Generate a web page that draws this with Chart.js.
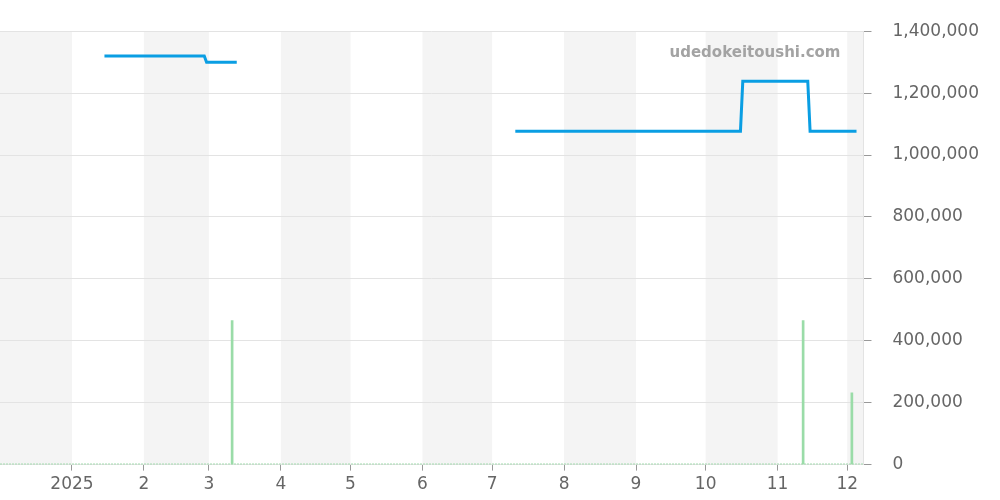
<!DOCTYPE html>
<html>
<head>
<meta charset="utf-8">
<script src="https://cdn.jsdelivr.net/npm/chart.js@4.4.1/dist/chart.umd.min.js"></script>
<style>
  html, body { margin: 0; padding: 0; background: #fff; }
  #wrap { width: 1000px; height: 500px; }
</style>
</head>
<body>
<div id="wrap"><canvas id="chart" width="1000" height="500"></canvas></div>
<script>
// days counted from 2025-01-01
const axisStart = -31;
const axisEnd = 341;
const monthTicks = [0, 31, 59, 90, 120, 151, 181, 212, 243, 273, 304, 334];
const monthLabels = ['2025', '2', '3', '4', '5', '6', '7', '8', '9', '10', '11', '12'];
const shadeStarts = [-31, 31, 90, 151, 212, 273, 334];
const shadeEnds = [0, 59, 120, 181, 243, 304, 365];

// price line (null = gap)
const priceDays = [14, 57, 58, 71, 130, 191, 288, 289, 317, 318, 338];
const priceValues = [1320000, 1320000, 1300000, 1300000, null, 1077000, 1077000, 1238000, 1238000, 1077000, 1077000];

// volume bars
const volumeDays = [69, 315, 336];
const volumeValues = [465000, 465000, 232000];

// zero baseline
const baseDays = [axisStart, axisEnd];
const baseValues = [0, 0];

const yTicks = [0, 200000, 400000, 600000, 800000, 1000000, 1200000, 1400000];

const shadePlugin = {
    id: 'shade',
    beforeDraw(chart) {
        const { ctx, chartArea } = chart;
        const x = chart.scales.x;
        ctx.save();
        ctx.fillStyle = '#f4f4f4';
        shadeStarts.forEach((s, i) => {
            const x0 = Math.max(x.getPixelForValue(s), chartArea.left);
            const x1 = Math.min(x.getPixelForValue(shadeEnds[i]), chartArea.right);
            if (x1 > x0) ctx.fillRect(x0, chartArea.top, x1 - x0, chartArea.bottom - chartArea.top);
        });
        ctx.restore();
    }
};

const watermarkPlugin = {
    id: 'watermark',
    afterDraw(chart) {
        const { ctx, chartArea } = chart;
        ctx.save();
        ctx.font = 'bold 15px "DejaVu Sans"';
        ctx.fillStyle = '#a3a3a3';
        ctx.textAlign = 'right';
        ctx.textBaseline = 'middle';
        ctx.fillText('udedokeitoushi.com', chartArea.right - 23, 53);
        ctx.restore();
    }
};

const toPoints = (xs, ys) => xs.map((d, i) => ({ x: d, y: ys[i] }));

new Chart(document.getElementById('chart').getContext('2d'), {
    data: {
        datasets: [
            {
                type: 'line',
                data: toPoints(priceDays, priceValues),
                borderColor: '#0a9ee3',
                borderWidth: 3,
                pointRadius: 0,
                tension: 0,
                spanGaps: false,
                order: 1
            },
            {
                type: 'bar',
                data: toPoints(volumeDays, volumeValues),
                backgroundColor: '#9adca8',
                barThickness: 2,
                order: 2
            },
            {
                type: 'line',
                data: toPoints(baseDays, baseValues),
                borderColor: '#a3dbb0',
                borderWidth: 2,
                borderDash: [2, 1],
                pointRadius: 0,
                order: 3
            }
        ]
    },
    options: {
        responsive: false,
        animation: false,
        layout: { padding: { top: 19, right: 0, left: 0, bottom: 1 } },
        plugins: {
            legend: { display: false },
            tooltip: { enabled: false }
        },
        scales: {
            x: {
                type: 'linear',
                offset: false,
                min: axisStart,
                max: axisEnd,
                afterBuildTicks: (scale) => {
                    scale.ticks = monthTicks.map(v => ({ value: v }));
                },
                ticks: {
                    autoSkip: false,
                    maxRotation: 0,
                    color: '#666',
                    font: { family: 'DejaVu Sans', size: 17 },
                    padding: 4,
                    callback: (value) => monthLabels[monthTicks.indexOf(value)]
                },
                grid: {
                    offset: false,
                    drawOnChartArea: false,
                    drawTicks: true,
                    tickLength: 6,
                    tickColor: '#999'
                },
                border: { display: false }
            },
            y: {
                position: 'right',
                min: 0,
                max: 1400000,
                afterBuildTicks: (scale) => {
                    scale.ticks = yTicks.map(v => ({ value: v }));
                },
                ticks: {
                    color: '#666',
                    font: { family: 'DejaVu Sans', size: 17 },
                    padding: 21,
                    callback: (value) => value.toLocaleString('en-US')
                },
                grid: {
                    color: '#e3e3e3',
                    tickColor: '#999',
                    tickLength: 8
                },
                border: { color: '#e3e3e3' }
            }
        }
    },
    plugins: [shadePlugin, watermarkPlugin]
});
</script>
</body>
</html>
